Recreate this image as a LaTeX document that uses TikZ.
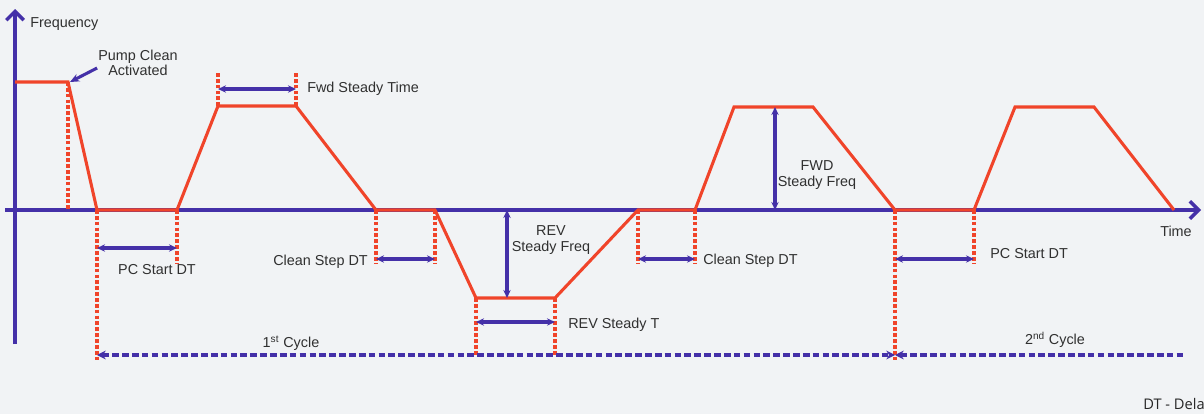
\documentclass[tikz,border=0pt]{standalone}
\usepackage{fontspec}
\setmainfont{Liberation Sans}
\newfontfamily\notefont{Open Sans}
\usetikzlibrary{arrows.meta,calc}
\definecolor{Backdrop}{HTML}{F1F3F5}
\definecolor{Indigo}{HTML}{4430A8}
\definecolor{Trace}{HTML}{F0442A}
\definecolor{Ink}{HTML}{303030}
\tikzset{
  axisline/.style={-{Straight Barb[length=6.5pt,width=13pt]},draw=Indigo,line width=2.6pt},
  trace/.style={draw=Trace,line width=2.3pt,line join=miter},
  guide/.style={draw=Trace,line width=2.3pt,dash pattern=on 2.8pt off 1.6pt},
  dim/.style={{Stealth[length=6pt,width=5.5pt]}-{Stealth[length=6pt,width=5.5pt]},draw=Indigo,line width=2.3pt},
  cyclearrow/.style={draw=Indigo,line width=2.3pt,dash pattern=on 5pt off 2.4pt},
  lbl/.style={font=\fontsize{10.8}{11.4}\selectfont,text=Ink,inner sep=0pt,align=center}
}

\begin{document}
\begin{tikzpicture}[x=0.75pt,y=-0.75pt]
  \useasboundingbox[fill=Backdrop] (0,0) rectangle (1204,414);
  % corners of the frequency trace
  \coordinate (a1) at (15,82);    \coordinate (a2) at (68,82);
  \coordinate (a3) at (97,210);   \coordinate (a4) at (177,210);
  \coordinate (a5) at (218,106);  \coordinate (a6) at (296,106);
  \coordinate (a7) at (376,210);  \coordinate (a8) at (435,210);
  \coordinate (a9) at (476,298);  \coordinate (a10) at (555,298);
  \coordinate (a11) at (638,210); \coordinate (a12) at (695,210);
  \coordinate (a13) at (734,107); \coordinate (a14) at (813,107);
  \coordinate (a15) at (895,210); \coordinate (a16) at (974,210);
  \coordinate (a17) at (1015,107);\coordinate (a18) at (1094,107);
  \coordinate (a19) at (1174,210);
  % axes
  \coordinate (ybot) at (15,344); \coordinate (ytop) at (15,9);
  \coordinate (xleft) at (5,210); \coordinate (xright) at (1201,210);
  \draw[axisline] (ybot) -- (ytop);
  \draw[axisline] (xleft) -- (xright);
  \node[lbl,anchor=west] (freq) at (30,24) {Frequency};
  \node[lbl] (time) at (1176,231) {Time};

  % dashed guides
  \draw[guide] (a2) -- ++(0,128);
  \draw[guide] (a3) -- ++(0,152);
  \draw[guide] (a4) -- ++(0,53);
  \draw[guide] (a5) -- ++(0,-34);
  \draw[guide] (a6) -- ++(0,-34);
  \draw[guide] (a7) -- ++(0,53);
  \draw[guide] (a8) -- ++(0,53);
  \draw[guide] (a9) -- ++(0,57);
  \draw[guide] (a10) -- ++(0,57);
  \draw[guide] (a11) -- ++(0,53);
  \draw[guide] (a12) -- ++(0,53);
  \draw[guide] (a15) -- ++(0,152);
  \draw[guide] (a16) -- ++(0,54);

  % trace
  \draw[trace] (a1) -- (a2) -- (a3) -- (a4) -- (a5) -- (a6) -- (a7) -- (a8) -- (a9)
    -- (a10) -- (a11) -- (a12) -- (a13) -- (a14) -- (a15) -- (a16) -- (a17) -- (a18) -- (a19);

  % pump clean
  \node[lbl] (pumplbl) at (138,63) {Pump Clean\\Activated};
  \draw[-{Stealth[length=7pt,width=6pt]},draw=Indigo,line width=2.3pt]
    ($(pumplbl.west)+(-1,5)$) -- ($(a2)+(2,0)$);

  % fwd steady time
  \coordinate (fsL) at (218,89); \coordinate (fsR) at (296,89);
  \draw[dim] (fsL) -- (fsR);
  \node[lbl,anchor=west] (fslbl) at (307,89) {Fwd Steady Time};

  % pc start delay 1
  \coordinate (pc1L) at (97,248); \coordinate (pc1R) at (177,248);
  \draw[dim] (pc1L) -- (pc1R);
  \node[lbl] (pc1lbl) at (157,270) {PC Start DT};

  % clean step delay 1
  \coordinate (cs1L) at (376,259); \coordinate (cs1R) at (435,259);
  \draw[dim] (cs1L) -- (cs1R);
  \node[lbl,anchor=east] (cs1lbl) at (368,262) {Clean Step DT};

  % rev steady freq
  \coordinate (rfT) at (507,210); \coordinate (rfB) at (507,298);
  \draw[dim] (rfT) -- (rfB);
  \node[lbl] (rflbl) at (551,240) {REV\\Steady Freq};

  % rev steady time
  \coordinate (rtL) at (476,322); \coordinate (rtR) at (555,322);
  \draw[dim] (rtL) -- (rtR);
  \node[lbl,anchor=west] (rtlbl) at (568,325) {REV Steady T};

  % clean step delay 2
  \coordinate (cs2L) at (638,259); \coordinate (cs2R) at (695,259);
  \draw[dim] (cs2L) -- (cs2R);
  \node[lbl,anchor=west] (cs2lbl) at (703,261) {Clean Step DT};

  % fwd steady freq
  \coordinate (ffT) at (775,107); \coordinate (ffB) at (775,210);
  \draw[dim] (ffT) -- (ffB);
  \node[lbl] (fflbl) at (817,175) {FWD\\Steady Freq};

  % pc start delay 2
  \coordinate (pc2L) at (895,259); \coordinate (pc2R) at (974,259);
  \draw[dim] (pc2L) -- (pc2R);
  \node[lbl,anchor=west] (pc2lbl) at (990,254) {PC Start DT};

  % cycles
  \coordinate (c1L) at (97,355); \coordinate (c1R) at (895,355);
  \coordinate (c2R) at (1183,355);
  \draw[cyclearrow,{Stealth[length=6.5pt,width=6.5pt]}-{Stealth[length=6.5pt,width=6.5pt]}] (c1L) -- (c1R);
  \draw[cyclearrow,{Stealth[length=6.5pt,width=6.5pt]}-] (c1R) -- (c2R);
  \node[lbl] (c1lbl) at (291,343) {1\textsuperscript{st} Cycle};
  \node[lbl] (c2lbl) at (1055,340) {2\textsuperscript{nd} Cycle};

  \node[font=\notefont\fontsize{11}{13}\selectfont,text=black!85,inner sep=0pt,anchor=west] (note) at (1143,404) {DT - Dela};
\end{tikzpicture}
\end{document}
